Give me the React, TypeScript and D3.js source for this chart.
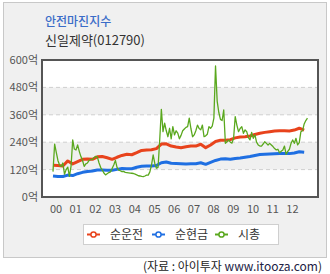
import React from "react";
import * as d3 from "d3";

const title = "안전마진지수";
const subtitle = "신일제약(012790)";
const yTicks = [0, 120, 240, 360, 480, 600];
const xYears = ["00", "01", "02", "03", "04", "05", "06", "07", "08", "09", "10", "11", "12"];
const seriesNames = ["순운전", "순현금", "시총"];
const seriesColors = ["#e8431c", "#1f6fe2", "#5aa81e"];

// quarterly from 2000 Q1
const workingCapital = [
  139, 138, 136, 158, 145, 155, 165, 166, 165, 176, 177, 172, 165, 174, 182, 187,
  185, 194, 204, 206, 207, 212, 232, 233, 223, 219, 216, 220, 223, 223, 231, 216,
  228, 243, 249, 249, 251, 259, 263, 264, 267, 274, 279, 283, 286, 289, 290, 290,
  289, 293, 301, 293,
];
const netCash = [
  92, 90, 90, 96, 94, 102, 108, 112, 114, 118, 118, 117, 117, 121, 125, 124,
  124, 130, 135, 136, 136, 138, 150, 153, 148, 147, 146, 145, 146, 146, 150, 143,
  152, 160, 166, 167, 165, 169, 171, 174, 177, 182, 186, 187, 188, 189, 190, 190,
  190, 193, 198, 196,
];
// monthly from 2000-01
const marketCap = [
  111, 232, 195, 160, 140, 134, 149, 100, 120, 131, 90, 135,
  250, 210, 206, 228, 200, 177, 160, 134, 145, 149, 160, 164,
  165, 172, 178, 176, 150, 130, 118, 105, 97, 102, 107, 110,
  125, 140, 160, 130, 118, 115, 111, 112, 108, 107, 106, 105,
  104, 103, 100, 97, 93, 92, 90, 89, 92, 96, 96, 110,
  140, 184, 147, 126, 130, 250, 384, 286, 323, 290, 264, 301,
  255, 308, 272, 290, 280, 255, 270, 290, 298, 305, 308, 345,
  300, 264, 272, 290, 315, 300, 294, 315, 264, 268, 275, 308,
  301, 310, 345, 574, 420, 370, 340, 335, 381, 235, 242, 250,
  240, 236, 257, 352, 315, 286, 300, 308, 279, 294, 286, 260,
  250, 283, 257, 272, 240, 228, 223, 223, 232, 242, 235, 228,
  235, 228, 221, 212, 206, 209, 194, 200, 206, 223, 187, 200,
  209, 235, 250, 235, 257, 228, 238, 286, 290, 320, 335, 345,
];

const FONT = "'Noto Sans CJK KR', 'Noto Sans', sans-serif";

export default function App() {
  const W = 330, H = 274;
  const plot = { l: 42, r: 318, t: 60, b: 197 };
  const x = d3.scaleLinear().domain([2000, 2014]).range([53, 53 + 19.7 * 14]);
  const y = d3.scaleLinear().domain([0, 600]).range([plot.b, plot.t]);

  const qLine = d3.line<number>().x((_, i) => x(2000 + i / 4)).y((d) => y(d));
  const mLine = d3.line<number>().x((_, i) => x(2000 + i / 12)).y((d) => y(d));

  const bands = [[360, 480], [120, 240]];
  const legendItems = [
    { name: seriesNames[0], color: seriesColors[0], x: 87 },
    { name: seriesNames[1], color: seriesColors[1], x: 152 },
    { name: seriesNames[2], color: seriesColors[2], x: 215 },
  ];

  return (
    <svg width={W} height={H} style={{ position: "absolute", left: 0, top: 0, fontFamily: FONT }}>
      <rect x={0} y={0} width={W} height={H} fill="#fff" />
      <rect x={3.5} y={2.5} width={323} height={255} fill="#f0f0f0" stroke="#c8c8c8" />
      <text x={45} y={26} fontSize={12} fill="#3a6cc8" fontWeight={500}>{title}</text>
      <text x={45} y={45} fontSize={13} fill="#333">{subtitle}</text>

      <rect x={plot.l} y={plot.t} width={plot.r - plot.l} height={plot.b - plot.t} fill="#fff" />
      {bands.map(([a, b], i) => (
        <rect key={i} x={plot.l} y={y(b)} width={plot.r - plot.l} height={y(a) - y(b)} fill="#f0f0f0" />
      ))}
      {yTicks.filter((t) => t > 0 && t < 600).map((t) => (
        <line key={t} x1={plot.l} x2={plot.r} y1={y(t)} y2={y(t)} stroke="#cfcfcf" strokeDasharray="4,3" />
      ))}
      {yTicks.map((t) => (
        <text key={t} x={38} y={y(t) + 4} fontSize={11} fill="#555" textAnchor="end">{t}억</text>
      ))}
      {xYears.map((lab, i) => (
        <text key={lab} x={x(2000 + i) + 3} y={213} fontSize={11} fill="#555" textAnchor="middle">{lab}</text>
      ))}

      <path d={qLine(workingCapital) || ""} fill="none" stroke={seriesColors[0]} strokeWidth={3} strokeLinejoin="round" />
      <path d={qLine(netCash) || ""} fill="none" stroke={seriesColors[1]} strokeWidth={3} strokeLinejoin="round" />
      <path d={mLine(marketCap) || ""} fill="none" stroke={seriesColors[2]} strokeWidth={1.3} strokeLinejoin="round" />

      <rect x={plot.l} y={plot.t} width={plot.r - plot.l} height={plot.b - plot.t} fill="none" stroke="#555" strokeWidth={2} />

      <rect x={83.5} y={224.5} width={195} height={20} fill="#fff" stroke="#cfcfcf" />
      {legendItems.map((it) => (
        <g key={it.name}>
          <line x1={it.x} x2={it.x + 13} y1={234.5} y2={234.5} stroke={it.color} strokeWidth={2} />
          <circle cx={it.x + 6.5} cy={234.5} r={2.6} fill="#fff" stroke={it.color} strokeWidth={1.5} />
          <text x={it.x + 23} y={239} fontSize={12} fill="#333">{it.name}</text>
        </g>
      ))}

      <text x={322} y={271} fontSize={12} textAnchor="end" fill="#222">
        (자료 : 아이투자 <tspan fill="#222244">www.itooza.com</tspan>)
      </text>
    </svg>
  );
}
